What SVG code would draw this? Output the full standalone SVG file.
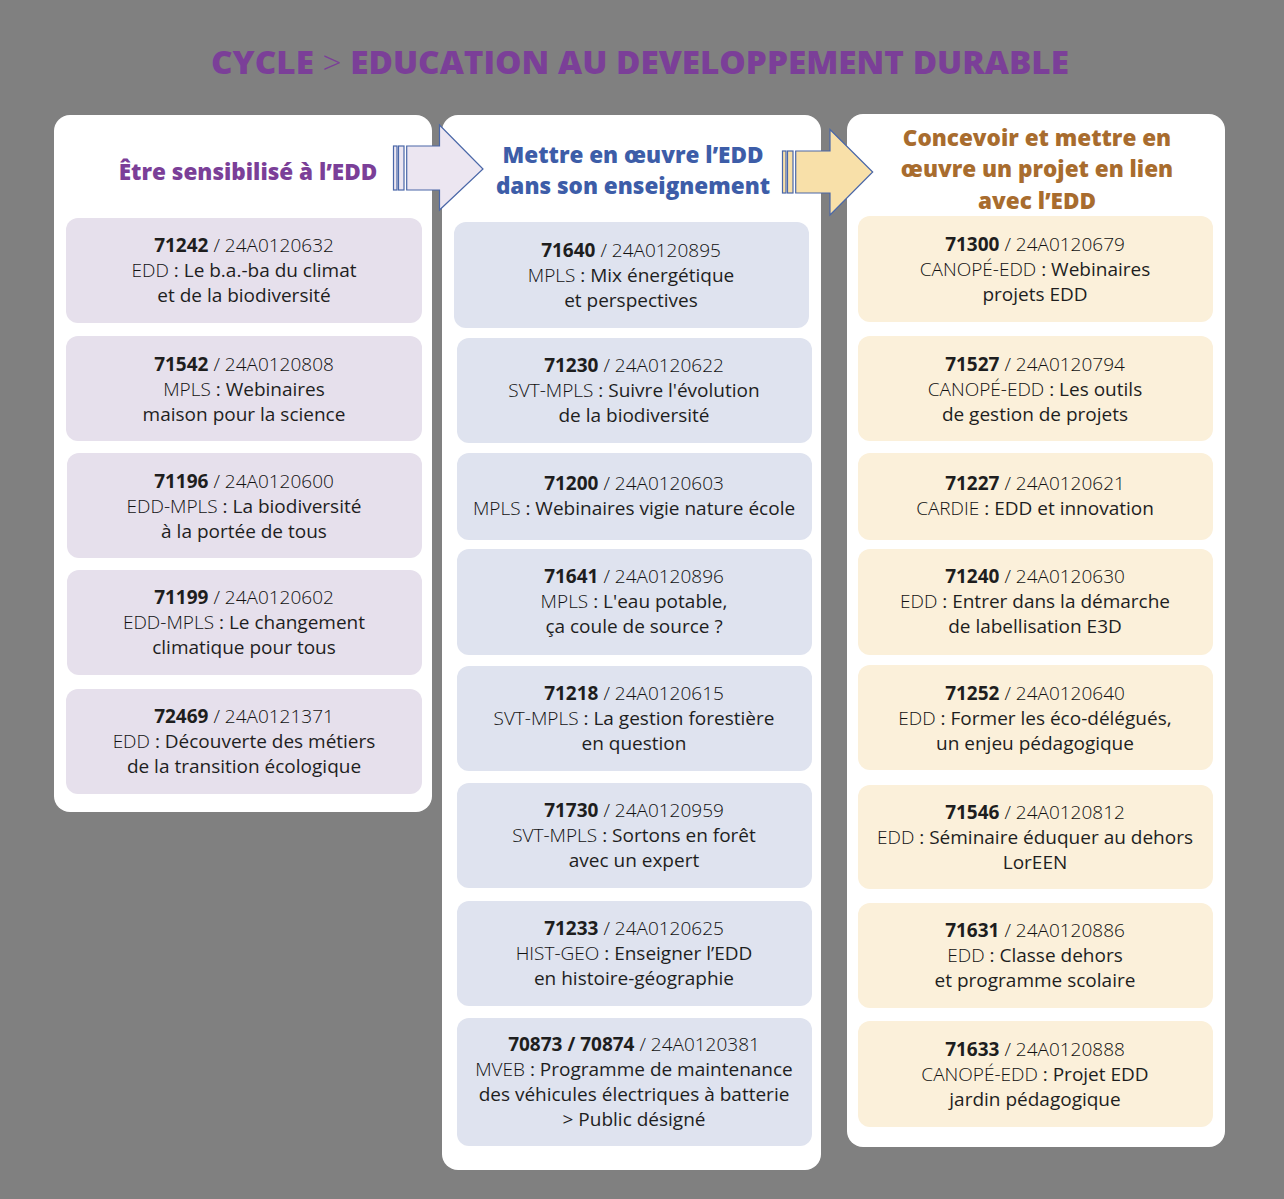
<svg xmlns="http://www.w3.org/2000/svg" width="1284" height="1199" viewBox="0 0 1284 1199">
<style>
.panel{fill:#ffffff}
.c1{fill:#E6E0EC}
.c2{fill:#DFE3EF}
.c3{fill:#FBF0DA}
.t{font-family:"Open Sans","Liberation Sans",sans-serif;font-size:19px;fill:#1e1e1e;text-anchor:middle;font-weight:500}
.b{font-weight:700}
.l{font-weight:300;fill:#111}
.h{font-family:"Open Sans","Liberation Sans",sans-serif;font-size:22.5px;font-weight:800;text-anchor:middle}
.arrow{stroke:#4A67A8;stroke-width:1.2}
</style>
<rect width="1284" height="1199" fill="#808080"/>
<text x="640" y="74" font-family="'Open Sans','Liberation Sans',sans-serif" font-size="31" font-weight="800" fill="#7B3F98" text-anchor="middle" textLength="858" lengthAdjust="spacingAndGlyphs">CYCLE <tspan font-weight="300">&gt;</tspan> EDUCATION AU DEVELOPPEMENT DURABLE</text>

<g id="panel1">
<rect class="panel" x="54" y="115" width="378" height="697" rx="16"/>
<text class="h" x="248" y="180" fill="#7B3F98">Être sensibilisé à l’EDD</text>
</g>
<g id="panel2">
<rect class="panel" x="442" y="115" width="379" height="1055" rx="16"/>
<text class="h" x="633" y="163" fill="#3D5DA8">Mettre en œuvre l’EDD</text>
<text class="h" x="633" y="194" fill="#3D5DA8">dans son enseignement</text>
</g>
<g id="panel3">
<rect class="panel" x="847" y="114" width="378" height="1033" rx="16"/>
<text class="h" x="1037" y="146" fill="#A86C2E">Concevoir et mettre en</text>
<text class="h" x="1037" y="177" fill="#A86C2E">œuvre un projet en lien</text>
<text class="h" x="1037" y="209" fill="#A86C2E">avec l’EDD</text>
</g>

<g id="connectors">
<g id="arrow1" class="arrow" fill="#ECE6F1">
<rect x="393.5" y="146" width="3.5" height="44"/>
<rect x="398.5" y="146" width="5.5" height="44"/>
<path d="M406.7,146 H439.5 V125 L483,169 L439.5,210 V190 H406.7 Z"/>
</g>
<g id="arrow2" class="arrow" fill="#F8E0A9">
<rect x="782.5" y="151" width="3.5" height="42"/>
<rect x="787.5" y="151" width="5.5" height="42"/>
<path d="M795.7,151 H830 V129.5 L872.7,172 L830,215 V193 H795.7 Z"/>
</g>
</g>

<!-- Panel 1 cards -->
<g id="n71242"><rect class="c1" x="66" y="218" width="356" height="105" rx="12"/>
<text class="t" x="244" y="252"><tspan class="b">71242</tspan><tspan class="l"> / 24A0120632</tspan></text>
<text class="t" x="244" y="277"><tspan class="l">EDD</tspan> : Le b.a.-ba du climat</text>
<text class="t" x="244" y="302">et de la biodiversité</text></g>
<g id="n71542"><rect class="c1" x="66" y="336" width="356" height="105" rx="12"/>
<text class="t" x="244" y="371"><tspan class="b">71542</tspan><tspan class="l"> / 24A0120808</tspan></text>
<text class="t" x="244" y="396"><tspan class="l">MPLS</tspan> : Webinaires</text>
<text class="t" x="244" y="421">maison pour la science</text></g>
<g id="n71196"><rect class="c1" x="67" y="453" width="355" height="105" rx="12"/>
<text class="t" x="244" y="488"><tspan class="b">71196</tspan><tspan class="l"> / 24A0120600</tspan></text>
<text class="t" x="244" y="513"><tspan class="l">EDD-MPLS</tspan> : La biodiversité</text>
<text class="t" x="244" y="538">à la portée de tous</text></g>
<g id="n71199"><rect class="c1" x="67" y="570" width="355" height="105" rx="12"/>
<text class="t" x="244" y="604"><tspan class="b">71199</tspan><tspan class="l"> / 24A0120602</tspan></text>
<text class="t" x="244" y="629"><tspan class="l">EDD-MPLS</tspan> : Le changement</text>
<text class="t" x="244" y="654">climatique pour tous</text></g>
<g id="n72469"><rect class="c1" x="66" y="689" width="356" height="105" rx="12"/>
<text class="t" x="244" y="723"><tspan class="b">72469</tspan><tspan class="l"> / 24A0121371</tspan></text>
<text class="t" x="244" y="748"><tspan class="l">EDD</tspan> : Découverte des métiers</text>
<text class="t" x="244" y="773">de la transition écologique</text></g>

<!-- Panel 2 cards -->
<g id="n71640"><rect class="c2" x="454" y="222" width="355" height="106" rx="12"/>
<text class="t" x="631" y="257"><tspan class="b">71640</tspan><tspan class="l"> / 24A0120895</tspan></text>
<text class="t" x="631" y="282"><tspan class="l">MPLS</tspan> : Mix énergétique</text>
<text class="t" x="631" y="307">et perspectives</text></g>
<g id="n71230"><rect class="c2" x="457" y="338" width="355" height="105" rx="12"/>
<text class="t" x="634" y="372"><tspan class="b">71230</tspan><tspan class="l"> / 24A0120622</tspan></text>
<text class="t" x="634" y="397"><tspan class="l">SVT-MPLS</tspan> : Suivre l'évolution</text>
<text class="t" x="634" y="422">de la biodiversité</text></g>
<g id="n71200"><rect class="c2" x="457" y="453" width="355" height="87" rx="12"/>
<text class="t" x="634" y="490"><tspan class="b">71200</tspan><tspan class="l"> / 24A0120603</tspan></text>
<text class="t" x="634" y="515"><tspan class="l">MPLS</tspan> : Webinaires vigie nature école</text></g>
<g id="n71641"><rect class="c2" x="457" y="549" width="355" height="106" rx="12"/>
<text class="t" x="634" y="583"><tspan class="b">71641</tspan><tspan class="l"> / 24A0120896</tspan></text>
<text class="t" x="634" y="608"><tspan class="l">MPLS</tspan> : L'eau potable,</text>
<text class="t" x="634" y="633">ça coule de source ?</text></g>
<g id="n71218"><rect class="c2" x="457" y="666" width="355" height="105" rx="12"/>
<text class="t" x="634" y="700"><tspan class="b">71218</tspan><tspan class="l"> / 24A0120615</tspan></text>
<text class="t" x="634" y="725"><tspan class="l">SVT-MPLS</tspan> : La gestion forestière</text>
<text class="t" x="634" y="750">en question</text></g>
<g id="n71730"><rect class="c2" x="457" y="783" width="355" height="105" rx="12"/>
<text class="t" x="634" y="817"><tspan class="b">71730</tspan><tspan class="l"> / 24A0120959</tspan></text>
<text class="t" x="634" y="842"><tspan class="l">SVT-MPLS</tspan> : Sortons en forêt</text>
<text class="t" x="634" y="867">avec un expert</text></g>
<g id="n71233"><rect class="c2" x="457" y="901" width="355" height="105" rx="12"/>
<text class="t" x="634" y="935"><tspan class="b">71233</tspan><tspan class="l"> / 24A0120625</tspan></text>
<text class="t" x="634" y="960"><tspan class="l">HIST-GEO</tspan> : Enseigner l’EDD</text>
<text class="t" x="634" y="985">en histoire-géographie</text></g>
<g id="n70873"><rect class="c2" x="457" y="1018" width="355" height="128" rx="12"/>
<text class="t" x="634" y="1051"><tspan class="b">70873 / 70874</tspan><tspan class="l"> / 24A0120381</tspan></text>
<text class="t" x="634" y="1076"><tspan class="l">MVEB</tspan> : Programme de maintenance</text>
<text class="t" x="634" y="1101">des véhicules électriques à batterie</text>
<text class="t" x="634" y="1126">&gt; Public désigné</text></g>

<!-- Panel 3 cards -->
<g id="n71300"><rect class="c3" x="858" y="216" width="355" height="106" rx="12"/>
<text class="t" x="1035" y="251"><tspan class="b">71300</tspan><tspan class="l"> / 24A0120679</tspan></text>
<text class="t" x="1035" y="276"><tspan class="l">CANOPÉ-EDD</tspan> : Webinaires</text>
<text class="t" x="1035" y="301">projets EDD</text></g>
<g id="n71527"><rect class="c3" x="858" y="336" width="355" height="105" rx="12"/>
<text class="t" x="1035" y="371"><tspan class="b">71527</tspan><tspan class="l"> / 24A0120794</tspan></text>
<text class="t" x="1035" y="396"><tspan class="l">CANOPÉ-EDD</tspan> : Les outils</text>
<text class="t" x="1035" y="421">de gestion de projets</text></g>
<g id="n71227"><rect class="c3" x="858" y="453" width="355" height="87" rx="12"/>
<text class="t" x="1035" y="490"><tspan class="b">71227</tspan><tspan class="l"> / 24A0120621</tspan></text>
<text class="t" x="1035" y="515"><tspan class="l">CARDIE</tspan> : EDD et innovation</text></g>
<g id="n71240"><rect class="c3" x="858" y="549" width="355" height="106" rx="12"/>
<text class="t" x="1035" y="583"><tspan class="b">71240</tspan><tspan class="l"> / 24A0120630</tspan></text>
<text class="t" x="1035" y="608"><tspan class="l">EDD</tspan> : Entrer dans la démarche</text>
<text class="t" x="1035" y="633">de labellisation E3D</text></g>
<g id="n71252"><rect class="c3" x="858" y="665" width="355" height="105" rx="12"/>
<text class="t" x="1035" y="700"><tspan class="b">71252</tspan><tspan class="l"> / 24A0120640</tspan></text>
<text class="t" x="1035" y="725"><tspan class="l">EDD</tspan> : Former les éco-délégués,</text>
<text class="t" x="1035" y="750">un enjeu pédagogique</text></g>
<g id="n71546"><rect class="c3" x="858" y="785" width="355" height="104" rx="12"/>
<text class="t" x="1035" y="819"><tspan class="b">71546</tspan><tspan class="l"> / 24A0120812</tspan></text>
<text class="t" x="1035" y="844"><tspan class="l">EDD</tspan> : Séminaire éduquer au dehors</text>
<text class="t" x="1035" y="869">LorEEN</text></g>
<g id="n71631"><rect class="c3" x="858" y="903" width="355" height="105" rx="12"/>
<text class="t" x="1035" y="937"><tspan class="b">71631</tspan><tspan class="l"> / 24A0120886</tspan></text>
<text class="t" x="1035" y="962"><tspan class="l">EDD</tspan> : Classe dehors</text>
<text class="t" x="1035" y="987">et programme scolaire</text></g>
<g id="n71633"><rect class="c3" x="858" y="1021" width="355" height="106" rx="12"/>
<text class="t" x="1035" y="1056"><tspan class="b">71633</tspan><tspan class="l"> / 24A0120888</tspan></text>
<text class="t" x="1035" y="1081"><tspan class="l">CANOPÉ-EDD</tspan> : Projet EDD</text>
<text class="t" x="1035" y="1106">jardin pédagogique</text></g>
</svg>
